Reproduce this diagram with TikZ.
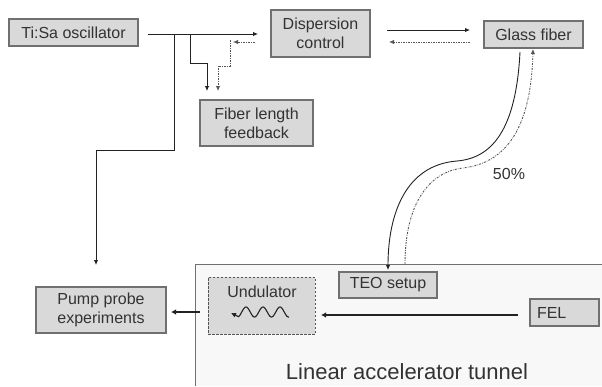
\documentclass[tikz,border=0pt]{standalone}
\usepackage{fontspec}
\setmainfont{Liberation Sans}
\usetikzlibrary{arrows.meta}
\definecolor{boxc}{HTML}{D9D9D9}
\definecolor{bordc}{HTML}{707070}
\definecolor{linec}{HTML}{222222}
\definecolor{txtc}{HTML}{333333}
\definecolor{tunc}{HTML}{F8F8F8}
\definecolor{dotcol}{HTML}{555555}
\begin{document}
\begin{tikzpicture}[x=1pt,y=-1pt,
  bx/.style={draw=bordc, fill=boxc, line width=1.1pt, inner sep=0pt, text=txtc,
    font=\fontsize{16}{19}\selectfont, align=center},
  conn/.style={draw=linec, line width=0.9pt},
  arr/.style={conn, -{Latex[length=5pt,width=4.5pt]}},
  dotl/.style={draw=dotcol, line width=0.9pt, dash pattern=on 2pt off 1.2pt on 0.6pt off 1.2pt},
  darr/.style={dotl, -{Latex[length=5pt,width=4.5pt]}},
  thk/.style={draw=linec, line width=2pt, -{Latex[length=5pt,width=5.5pt]}},
  lbl/.style={text=txtc, inner sep=0pt}
]
\useasboundingbox (0,0) rectangle (602,386);
\fill[white] (0,0) rectangle (602,386);
% tunnel
\fill[tunc] (195,264) rectangle (602,386);
\draw[bordc, line width=1pt] (195,386) -- (195,264) -- (602,264);
\node[lbl, font=\fontsize{22}{26}\selectfont] (tunlbl) at (407,372) {Linear accelerator tunnel};

% boxes
\node[bx, minimum width=129pt, minimum height=27pt] (tisa) at (73.5,32.5) {Ti:Sa oscillator};
\node[bx, minimum width=99pt, minimum height=47pt] (disp) at (320.5,33.5) {Dispersion\\control};
\node[bx, minimum width=99pt, minimum height=27pt] (glass) at (533.5,34.5) {Glass fiber};
\node[bx, minimum width=113pt, minimum height=46pt] (fiber) at (256.5,123) {Fiber length\\feedback};
\node[bx, minimum width=130pt, minimum height=46pt] (pump) at (101,310) {Pump probe\\experiments};
\node[bx, draw=dotcol, dash pattern=on 2.5pt off 1.5pt, line width=0.9pt, minimum width=107pt, minimum height=57pt] (und) at (261.5,305.5) {};
\node[lbl, font=\fontsize{16}{19}\selectfont] (undlbl) at (262,292) {Undulator};
\node[bx, minimum width=98pt, minimum height=26pt] (teo) at (388,285) {TEO setup};
\node[bx, minimum width=69pt, minimum height=27pt, text width=55pt, align=left] (fel) at (564.5,312.5) {FEL};

% wave in undulator
\coordinate (w1) at (231,313);
\draw[conn, line width=1.1pt, -{Latex[length=5pt,width=5pt]}] plot[domain=289:238.5, samples=90, smooth] (\x,{312-5*sin(21.18*(\x-241.75))}) -- (w1);

% Ti:Sa outputs
\coordinate (a0) at (148,34);
\coordinate (a1) at (258,34);
\draw[arr] (a0) -- (a1);
\coordinate (b0) at (174,34);
\coordinate (b1) at (96,265);
\draw[arr] (b0) -- (174,150) -- (96,150) -- (b1);
\coordinate (c0) at (190,34);
\coordinate (c1) at (207,91);
\draw[arr] (c0) -- (190,63) -- (207,63) -- (c1);
% dotted return from dispersion
\coordinate (d0) at (255,42);
\coordinate (d1) at (233,42);
\draw[darr] (d0) -- (d1);
\coordinate (e0) at (230,40);
\coordinate (e1) at (218,91);
\draw[darr] (e0) -- (230,66) -- (218,66) -- (e1);

% dispersion <-> glass
\coordinate (f0) at (387,30);
\coordinate (f1) at (470,30);
\draw[arr] (f0) -- (f1);
\coordinate (g0) at (470,42);
\coordinate (g1) at (389,42);
\draw[darr] (g0) -- (g1);

% fiber curves
\coordinate (h0) at (520,52);
\coordinate (h1) at (388,270);
\draw[arr] (h0) .. controls (516,130) and (492,158) .. (457,161)
  .. controls (405,165) and (388,215) .. (h1);
\coordinate (k0) at (405,264);
\coordinate (k1) at (533,49);
\draw[darr] (k0) .. controls (405,205) and (428,172) .. (463,168)
  .. controls (505,163) and (531,130) .. (k1);
\node[lbl, font=\fontsize{16}{19}\selectfont] (pct) at (509,174) {50\%};

% thick beam arrows
\coordinate (p0) at (200,312);
\coordinate (p1) at (171,312);
\draw[thk] (p0) -- (p1);
\coordinate (q0) at (518,315);
\coordinate (q1) at (321,315);
\draw[thk] (q0) -- (q1);
\end{tikzpicture}
\end{document}
